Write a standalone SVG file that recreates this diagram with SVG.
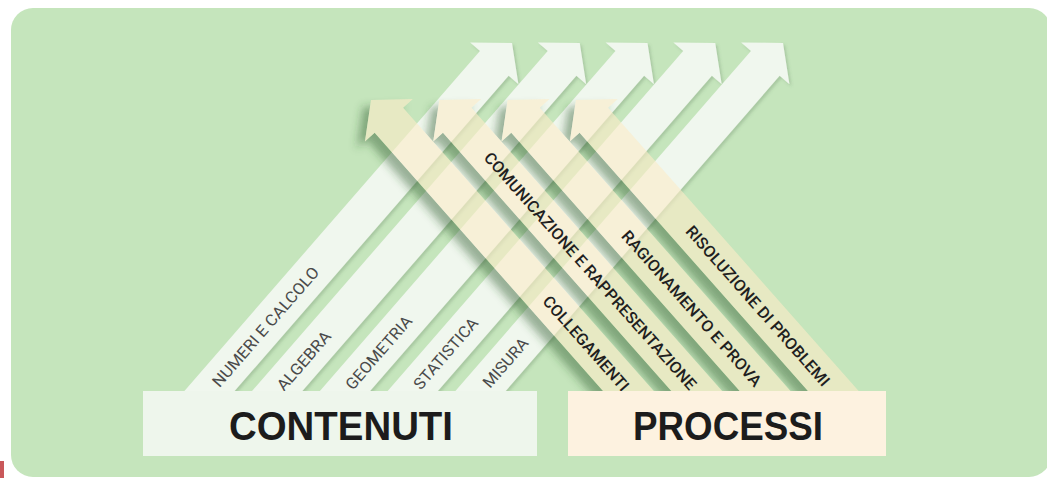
<svg xmlns="http://www.w3.org/2000/svg" width="1047" height="478" viewBox="0 0 1047 478">
<style>
.page{fill:#ffffff}
.bg{fill:#c5e5bc}
.carrow{fill:#f0f7ee}
.parrow{fill:#fcecc8;fill-opacity:0.62}
.pshadow{fill:#2a5a2a;fill-opacity:0.45}
.mask-hole{fill:#000}
.lbl{font-family:Roboto,"Liberation Sans",Arial,sans-serif;font-size:16px;text-anchor:middle}
.clbl{fill:#4a4a4a}
.plbl{fill:#1f1f1f;font-weight:500}
.title{font-family:"Liberation Sans",Arial,sans-serif;font-size:41px;font-weight:bold;fill:#1c1c1c;text-anchor:middle}
.cbox{fill:#eef6ec}
.pbox{fill:#fdf2e0}
</style>
<defs>
<path id="ca" d="M0 0 L-27 -32 L-27 -19 L-500 -19 L-500 19 L-27 19 L-27 32 Z"/>
<path id="pa" d="M0 0 L-27 -32 L-27 -19 L-430 -19 L-430 19 L-27 19 L-27 32 Z"/>
<filter id="cshadow" x="-10%" y="-10%" width="120%" height="120%">
<feDropShadow dx="2" dy="2" stdDeviation="1.5" flood-color="#4f6f4f" flood-opacity="0.25"/>
</filter>
<filter id="pblur" x="-20%" y="-20%" width="140%" height="140%">
<feGaussianBlur stdDeviation="4"/>
</filter>
<mask id="pmask" maskUnits="userSpaceOnUse" x="0" y="0" width="1047" height="478">
<rect width="1047" height="478" fill="#fff"/>
<use href="#pa" class="mask-hole" transform="translate(371,100) rotate(-131.5)"/>
<use href="#pa" class="mask-hole" transform="translate(439.3,100) rotate(-131.5)"/>
<use href="#pa" class="mask-hole" transform="translate(507.6,100) rotate(-131.5)"/>
<use href="#pa" class="mask-hole" transform="translate(575.9,100) rotate(-131.5)"/>
</mask>
</defs>

<rect class="page" x="0" y="0" width="1047" height="478"/>
<rect class="bg" x="11" y="8" width="1040" height="469" rx="22" ry="22"/>

<g id="connectors">
<g id="content-arrows" filter="url(#cshadow)">
<use id="arrow-numeri" href="#ca" class="carrow" transform="translate(512,43) rotate(-49)"/>
<use id="arrow-algebra" href="#ca" class="carrow" transform="translate(579.75,43) rotate(-49)"/>
<use id="arrow-geometria" href="#ca" class="carrow" transform="translate(647.5,43) rotate(-49)"/>
<use id="arrow-statistica" href="#ca" class="carrow" transform="translate(715.25,43) rotate(-49)"/>
<use id="arrow-misura" href="#ca" class="carrow" transform="translate(783,43) rotate(-49)"/>
</g>
<g id="process-shadows" mask="url(#pmask)">
<g filter="url(#pblur)" transform="translate(-8,7)">
<use href="#pa" class="pshadow" transform="translate(371,100) rotate(-131.5)"/>
<use href="#pa" class="pshadow" transform="translate(439.3,100) rotate(-131.5)"/>
<use href="#pa" class="pshadow" transform="translate(507.6,100) rotate(-131.5)"/>
<use href="#pa" class="pshadow" transform="translate(575.9,100) rotate(-131.5)"/>
</g>
</g>
<g id="process-arrows">
<use id="arrow-collegamenti" href="#pa" class="parrow" transform="translate(371,100) rotate(-131.5)"/>
<use id="arrow-comunicazione" href="#pa" class="parrow" transform="translate(439.3,100) rotate(-131.5)"/>
<use id="arrow-ragionamento" href="#pa" class="parrow" transform="translate(507.6,100) rotate(-131.5)"/>
<use id="arrow-risoluzione" href="#pa" class="parrow" transform="translate(575.9,100) rotate(-131.5)"/>
</g>
</g>

<g id="content-labels">
<g id="label-numeri" transform="translate(265.4,326.7) rotate(-49)"><text class="lbl clbl" x="0" y="5.8" textLength="153" lengthAdjust="spacingAndGlyphs">NUMERI E CALCOLO</text></g>
<g id="label-algebra" transform="translate(303.6,360.7) rotate(-49)"><text class="lbl clbl" x="0" y="5.8" textLength="73" lengthAdjust="spacingAndGlyphs">ALGEBRA</text></g>
<g id="label-geometria" transform="translate(378.5,352.5) rotate(-49)"><text class="lbl clbl" x="0" y="5.8" textLength="92" lengthAdjust="spacingAndGlyphs">GEOMETRIA</text></g>
<g id="label-statistica" transform="translate(445.5,353.3) rotate(-49)"><text class="lbl clbl" x="0" y="5.8" textLength="89" lengthAdjust="spacingAndGlyphs">STATISTICA</text></g>
<g id="label-misura" transform="translate(505.3,362.5) rotate(-49)"><text class="lbl clbl" x="0" y="5.8" textLength="60" lengthAdjust="spacingAndGlyphs">MISURA</text></g>
</g>

<g id="process-labels">
<g id="label-collegamenti" transform="translate(586.2,343.3) rotate(48.5)"><text class="lbl plbl" x="0" y="5.8" textLength="121" lengthAdjust="spacingAndGlyphs">COLLEGAMENTI</text></g>
<g id="label-comunicazione" transform="translate(590.4,270.8) rotate(48.5)"><text class="lbl plbl" x="0" y="5.8" textLength="311" lengthAdjust="spacingAndGlyphs">COMUNICAZIONE E RAPPRESENTAZIONE</text></g>
<g id="label-ragionamento" transform="translate(691.9,308.3) rotate(48.5)"><text class="lbl plbl" x="0" y="5.8" textLength="202" lengthAdjust="spacingAndGlyphs">RAGIONAMENTO E PROVA</text></g>
<g id="label-risoluzione" transform="translate(758,305.8) rotate(48.5)"><text class="lbl plbl" x="0" y="5.8" textLength="208" lengthAdjust="spacingAndGlyphs">RISOLUZIONE DI PROBLEMI</text></g>
</g>

<g id="node-contenuti">
<rect class="cbox" x="143" y="391" width="394" height="65"/>
<text class="title" x="341" y="440" textLength="224" lengthAdjust="spacingAndGlyphs">CONTENUTI</text>
</g>

<g id="node-processi">
<rect class="pbox" x="568" y="391" width="318" height="65"/>
<text class="title" x="728" y="440" textLength="190" lengthAdjust="spacingAndGlyphs">PROCESSI</text>
</g>

<rect id="edge-mark" x="0" y="461" width="4" height="17" fill="#c9585a"/>
</svg>
